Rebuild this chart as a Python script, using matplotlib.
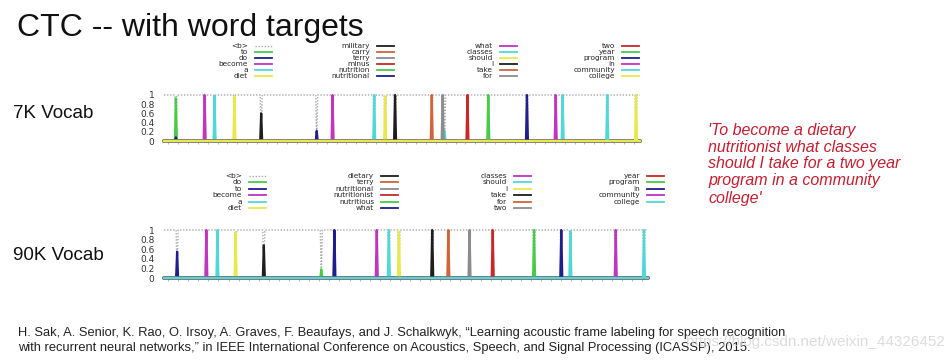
import numpy as np
import matplotlib
matplotlib.use("Agg")
import matplotlib.pyplot as plt
from matplotlib.lines import Line2D

W, H = 949, 362
N_FRAMES = 480

# 7K vocab: words in legend order, first one is the blank
top_words = ['<b>', 'to', 'do', 'become', 'a', 'diet',
             'military', 'carry', 'terry', 'minus', 'nutrition', 'nutritional',
             'what', 'classes', 'should', 'I', 'take', 'for',
             'two', 'year', 'program', 'in', 'community', 'college']
top_peak_word = ['to', 'do', 'become', 'a', 'diet', 'military', 'nutritional', 'what',
                 'classes', 'should', 'I', 'take', 'a', 'for', 'two', 'year',
                 'program', 'in', 'a', 'community', 'college']
top_peak_frame = [12, 12, 41, 51, 71, 98, 154, 170, 212, 223, 233, 270, 283, 281, 306, 327,
                  366, 395, 402, 447, 476]
top_peak_height = [0.93, 0.08, 1.0, 0.98, 0.97, 0.6, 0.22, 1.0, 1.0, 0.97, 1.0, 1.0, 0.22, 1.0,
                   1.0, 1.0, 1.0, 1.0, 1.0, 1.0, 1.0]

# 90K vocab
bot_words = ['<b>', 'do', 'to', 'become', 'a', 'diet',
             'dietary', 'terry', 'nutritional', 'nutritionist', 'nutritious', 'what',
             'classes', 'should', 'I', 'take', 'for', 'two',
             'year', 'program', 'in', 'community', 'college']
bot_peak_word = ['to', 'become', 'a', 'diet', 'dietary', 'nutritious', 'what', 'classes',
                 'should', 'I', 'take', 'for', 'two', 'year', 'program', 'in', 'a',
                 'community', 'college']
bot_peak_frame = [13, 42, 53, 71, 99, 156, 169, 211, 223, 233, 266, 282, 303, 326, 367, 394,
                  403, 448, 476]
bot_peak_height = [0.55, 1.0, 1.0, 0.95, 0.68, 0.18, 1.0, 1.0, 1.0, 0.97, 1.0, 1.0, 1.0,
                   1.0, 1.0, 1.0, 0.97, 1.0, 1.0]

sentence = ["'To become a dietary", "nutritionist what classes",
            "should I take for a two year", "program in a community", "college'"]

# gnuplot-like colour cycle used after the blank
cycle = ['#44cc44', '#1e1e8c', '#c034c0', '#50d8d8', '#e8e84a',
         '#1e1e1e', '#d2643c', '#8c8c8c', '#c82828']
BLANK_COLOR = '#a8a8a8'


def fx(x):
    return x / W


def fy(y):
    return 1 - y / H


fig = plt.figure(figsize=(W / 100, H / 100), dpi=100)
fig.patch.set_facecolor('white')


def draw_panel(rect, words, pk_word, pk_frame, pk_height):
    left, top, right, bottom = rect
    ax = fig.add_axes([fx(left), fy(bottom), fx(right - left), (bottom - top) / H])
    frames = np.arange(N_FRAMES + 1)
    series = {w: np.zeros(N_FRAMES + 1) for w in words}
    series['<b>'][:] = 1.0
    for w, f, h in zip(pk_word, pk_frame, pk_height):
        series[w][f] = h
        series['<b>'][f] = 0.0
    colors = {}
    for i, w in enumerate(words[1:]):
        colors[w] = cycle[i % len(cycle)]
    ax.plot(frames, series['<b>'], color=BLANK_COLOR, ls=(0, (1, 1.2)), lw=1.0, clip_on=False)
    for w in words[1:]:
        ax.plot(frames, series[w], color=colors[w], lw=1.6, clip_on=False)
    ax.set_xlim(0, N_FRAMES)
    ax.set_ylim(0, 1)
    for s in ax.spines.values():
        s.set_visible(False)
    ax.set_yticks([0, 0.2, 0.4, 0.6, 0.8, 1])
    ax.set_yticklabels(['0', '0.2', '0.4', '0.6', '0.8', '1'])
    ax.tick_params(axis='y', length=0, pad=7, labelsize=6.5, labelcolor='#333333')
    ax.set_xticks(np.arange(4, N_FRAMES, 10))
    ax.set_xticklabels([])
    ax.tick_params(axis='x', length=2.5, width=0.5, color='#9a9a9a', direction='out')
    return colors


def draw_legend(words, colors, col_right, row_y0, row_dy):
    for i, w in enumerate(words):
        col, row = i // 6, i % 6
        xr = col_right[col]
        y = row_y0 + row * row_dy
        fig.text(fx(xr), fy(y), w, ha='right', va='center', fontsize=5.3,
                 color='#262626', family='DejaVu Sans')
        if w == '<b>':
            ln = Line2D([fx(xr + 7), fx(xr + 24)], [fy(y), fy(y)], color=BLANK_COLOR,
                        ls=(0, (1, 1.2)), lw=1.0, transform=fig.transFigure)
        else:
            ln = Line2D([fx(xr + 7), fx(xr + 24)], [fy(y), fy(y)], color=colors[w],
                        lw=1.3, transform=fig.transFigure)
        fig.add_artist(ln)


top_colors = draw_panel((164, 95, 640, 141), top_words, top_peak_word, top_peak_frame, top_peak_height)
bot_colors = draw_panel((164, 230, 648, 278), bot_words, bot_peak_word, bot_peak_frame, bot_peak_height)

draw_legend(top_words, top_colors, [248, 370, 493, 615], 46, 6)
draw_legend(bot_words, bot_colors, [242, 374, 507, 640], 176, 6.4)

sans = ['Liberation Sans', 'DejaVu Sans']
fig.text(fx(17), fy(36), 'CTC -- with word targets', fontsize=23, family=sans,
         color='#111111', va='baseline', ha='left')
fig.text(fx(13), fy(113), '7K Vocab', fontsize=13.5, family=sans, color='#111111', va='center')
fig.text(fx(13), fy(256), '90K Vocab', fontsize=13.5, family=sans, color='#111111', va='center')

for i, line in enumerate(sentence):
    fig.text(fx(708), fy(130 + i * 17), line, fontsize=11.5, family=sans, style='italic',
             color='#c41e30', va='center', ha='left')

fig.text(fx(18), fy(333), 'H. Sak, A. Senior, K. Rao, O. Irsoy, A. Graves, F. Beaufays, and J. Schalkwyk, '
         '\u201cLearning acoustic frame labeling for speech recognition',
         fontsize=9.3, family=sans, color='#222222', va='center')
fig.text(fx(18), fy(348), 'with recurrent neural networks,\u201d in IEEE International Conference on '
         'Acoustics, Speech, and Signal Processing (ICASSP), 2015.',
         fontsize=9.3, family=sans, color='#222222', va='center')
fig.text(fx(945), fy(342), 'https://blog.csdn.net/weixin_44326452', fontsize=11, family=sans,
         color='#d4d4d4', alpha=0.8, va='center', ha='right')

fig.savefig('out.png', dpi=100)
